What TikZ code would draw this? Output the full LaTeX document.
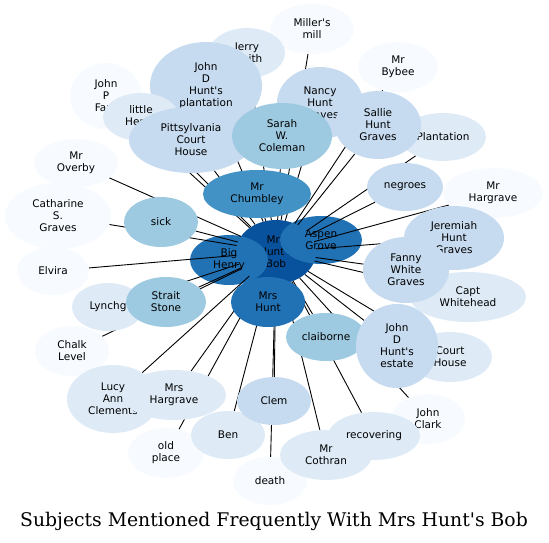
\documentclass[tikz,border=0pt]{standalone}
\usepackage{fontspec}
\setsansfont{DejaVu Sans}
\newfontfamily\titlefont{DejaVu Serif}
\usepackage{tikz}
\usetikzlibrary{shapes.geometric}

\definecolor{tone1}{HTML}{08519C}
\definecolor{tone2}{HTML}{2171B5}
\definecolor{tone3}{HTML}{4292C6}
\definecolor{tone4}{HTML}{9ECAE1}
\definecolor{tone5}{HTML}{C6DBEF}
\definecolor{tone6}{HTML}{DEEBF7}
\definecolor{tone7}{HTML}{F7FBFF}

\pgfdeclarelayer{hub}
\pgfdeclarelayer{links}
\pgfsetlayers{hub,links,main}

\begin{document}
\begin{tikzpicture}[
    x=1pt, y=-1pt,
    topic/.style={ellipse, inner sep=0pt, align=center, text=black,
        font=\sffamily\fontsize{10.5}{12}\selectfont},
    link/.style={draw=black, line width=0.9pt}
]
\useasboundingbox (0,0) rectangle (549,542);

% Hub - drawn under the links
\begin{pgfonlayer}{hub}
\node[topic, fill=tone1, minimum width=80pt, minimum height=64pt] (bob) at (276,252) {Mrs\\Hunt\textquotesingle s\\Bob};
\node[topic, fill=tone2, minimum width=78pt, minimum height=50pt] (bighenry) at (229,260) {Big\\Henry};
\node[topic, fill=tone2, minimum width=82pt, minimum height=48pt] (aspen) at (321,240) {Aspen\\Grove};
\end{pgfonlayer}

% Nodes - top
\node[topic, fill=tone7, minimum width=84pt, minimum height=50pt] (millers) at (312,29) {Miller\textquotesingle s\\mill};
\node[topic, fill=tone6, minimum width=76pt, minimum height=50pt] (jerry) at (247,53) {Jerry\\Smith};
\node[topic, fill=tone5, minimum width=112pt, minimum height=88pt] (plantjdh) at (206,86) {John\\D\\Hunt\textquotesingle s\\plantation};
\node[topic, fill=tone7, minimum width=72pt, minimum height=66pt] (johnp) at (106,96) {John\\P\\Fant};
\node[topic, fill=tone6, minimum width=76pt, minimum height=48pt] (littlehenry) at (141,117) {little\\Henry};
\node[topic, fill=tone5, minimum width=124pt, minimum height=66pt] (pittsyl) at (191,140) {Pittsylvania\\Court\\House};
\node[topic, fill=tone7, minimum width=80pt, minimum height=50pt] (bybee) at (398,67) {Mr\\Bybee};
\node[topic, fill=tone5, minimum width=86pt, minimum height=72pt] (nancy) at (320,103) {Nancy\\Hunt\\Graves};
\node[topic, fill=tone6, minimum width=86pt, minimum height=48pt] (plantation) at (443,137) {Plantation};
\node[topic, fill=tone5, minimum width=86pt, minimum height=68pt] (sallie) at (378,125) {Sallie\\Hunt\\Graves};
\node[topic, fill=tone4, minimum width=100pt, minimum height=66pt] (sarah) at (282,136) {Sarah\\W.\\Coleman};

% Nodes - left
\node[topic, fill=tone7, minimum width=84pt, minimum height=48pt] (overby) at (76,163) {Mr\\Overby};
\node[topic, fill=tone7, minimum width=106pt, minimum height=66pt] (catharine) at (58,216) {Catharine\\S.\\Graves};
\node[topic, fill=tone4, minimum width=74pt, minimum height=50pt] (sick) at (161,222) {sick};
\node[topic, fill=tone3, minimum width=108pt, minimum height=48pt] (chumbley) at (257,194) {Mr\\Chumbley};
\node[topic, fill=tone7, minimum width=72pt, minimum height=48pt] (elvira) at (53,271) {Elvira};
\node[topic, fill=tone6, minimum width=72pt, minimum height=48pt] (lynchg) at (108,307) {Lynchg};
\node[topic, fill=tone4, minimum width=80pt, minimum height=50pt] (strait) at (166,302) {Strait\\Stone};
\node[topic, fill=tone7, minimum width=74pt, minimum height=50pt] (chalk) at (72,351) {Chalk\\Level};

% Nodes - right
\node[topic, fill=tone5, minimum width=76pt, minimum height=48pt] (negroes) at (405,187) {negroes};
\node[topic, fill=tone7, minimum width=100pt, minimum height=50pt] (hargrave) at (493,193) {Mr\\Hargrave};
\node[topic, fill=tone5, minimum width=100pt, minimum height=64pt] (jeremiah) at (454,238) {Jeremiah\\Hunt\\Graves};
\node[topic, fill=tone6, minimum width=116pt, minimum height=50pt] (whitehead) at (468,297) {Capt\\Whitehead};
\node[topic, fill=tone5, minimum width=86pt, minimum height=66pt] (fanny) at (406,270) {Fanny\\White\\Graves};
\node[topic, fill=tone4, minimum width=80pt, minimum height=48pt] (claiborne) at (326,337) {claiborne};
\node[topic, fill=tone6, minimum width=84pt, minimum height=50pt] (courthouse) at (450,357) {Court\\House};
\node[topic, fill=tone5, minimum width=82pt, minimum height=84pt] (estate) at (397,346) {John\\D\\Hunt\textquotesingle s\\estate};

% Nodes - bottom
\node[topic, fill=tone2, minimum width=74pt, minimum height=50pt] (mrshunt) at (268,302) {Mrs\\Hunt};
\node[topic, fill=tone6, minimum width=92pt, minimum height=68pt] (lucy) at (113,399) {Lucy\\Ann\\Clements};
\node[topic, fill=tone6, minimum width=104pt, minimum height=50pt] (mrshargrave) at (174,395) {Mrs\\Hargrave};
\node[topic, fill=tone7, minimum width=76pt, minimum height=50pt] (oldplace) at (166,453) {old\\place};
\node[topic, fill=tone6, minimum width=74pt, minimum height=48pt] (ben) at (228,435) {Ben};
\node[topic, fill=tone5, minimum width=74pt, minimum height=48pt] (clem) at (274,401) {Clem};
\node[topic, fill=tone7, minimum width=74pt, minimum height=48pt] (death) at (270,481) {death};
\node[topic, fill=tone6, minimum width=92pt, minimum height=50pt] (cothran) at (326,455) {Mr\\Cothran};
\node[topic, fill=tone7, minimum width=74pt, minimum height=50pt] (johnclark) at (428,419) {John\\Clark};
\node[topic, fill=tone6, minimum width=92pt, minimum height=48pt] (recovering) at (374,436) {recovering};

% Links from the hub
\begin{pgfonlayer}{links}
\foreach \t in {millers, jerry, plantjdh, johnp, littlehenry, pittsyl, bybee, nancy,
    plantation, sallie, sarah, overby, catharine, sick, chumbley, elvira, lynchg,
    strait, chalk, negroes, hargrave, jeremiah, whitehead, fanny, claiborne,
    courthouse, estate, lucy, mrshargrave, oldplace, ben, clem, death, cothran,
    johnclark, recovering}
    \draw[link] (bob) -- (\t);
\end{pgfonlayer}

% Title
\node[font=\titlefont\fontsize{18.8}{22}\selectfont] (title) at (274,521) {Subjects Mentioned Frequently With Mrs Hunt\textquotesingle s Bob};

\end{tikzpicture}
\end{document}
